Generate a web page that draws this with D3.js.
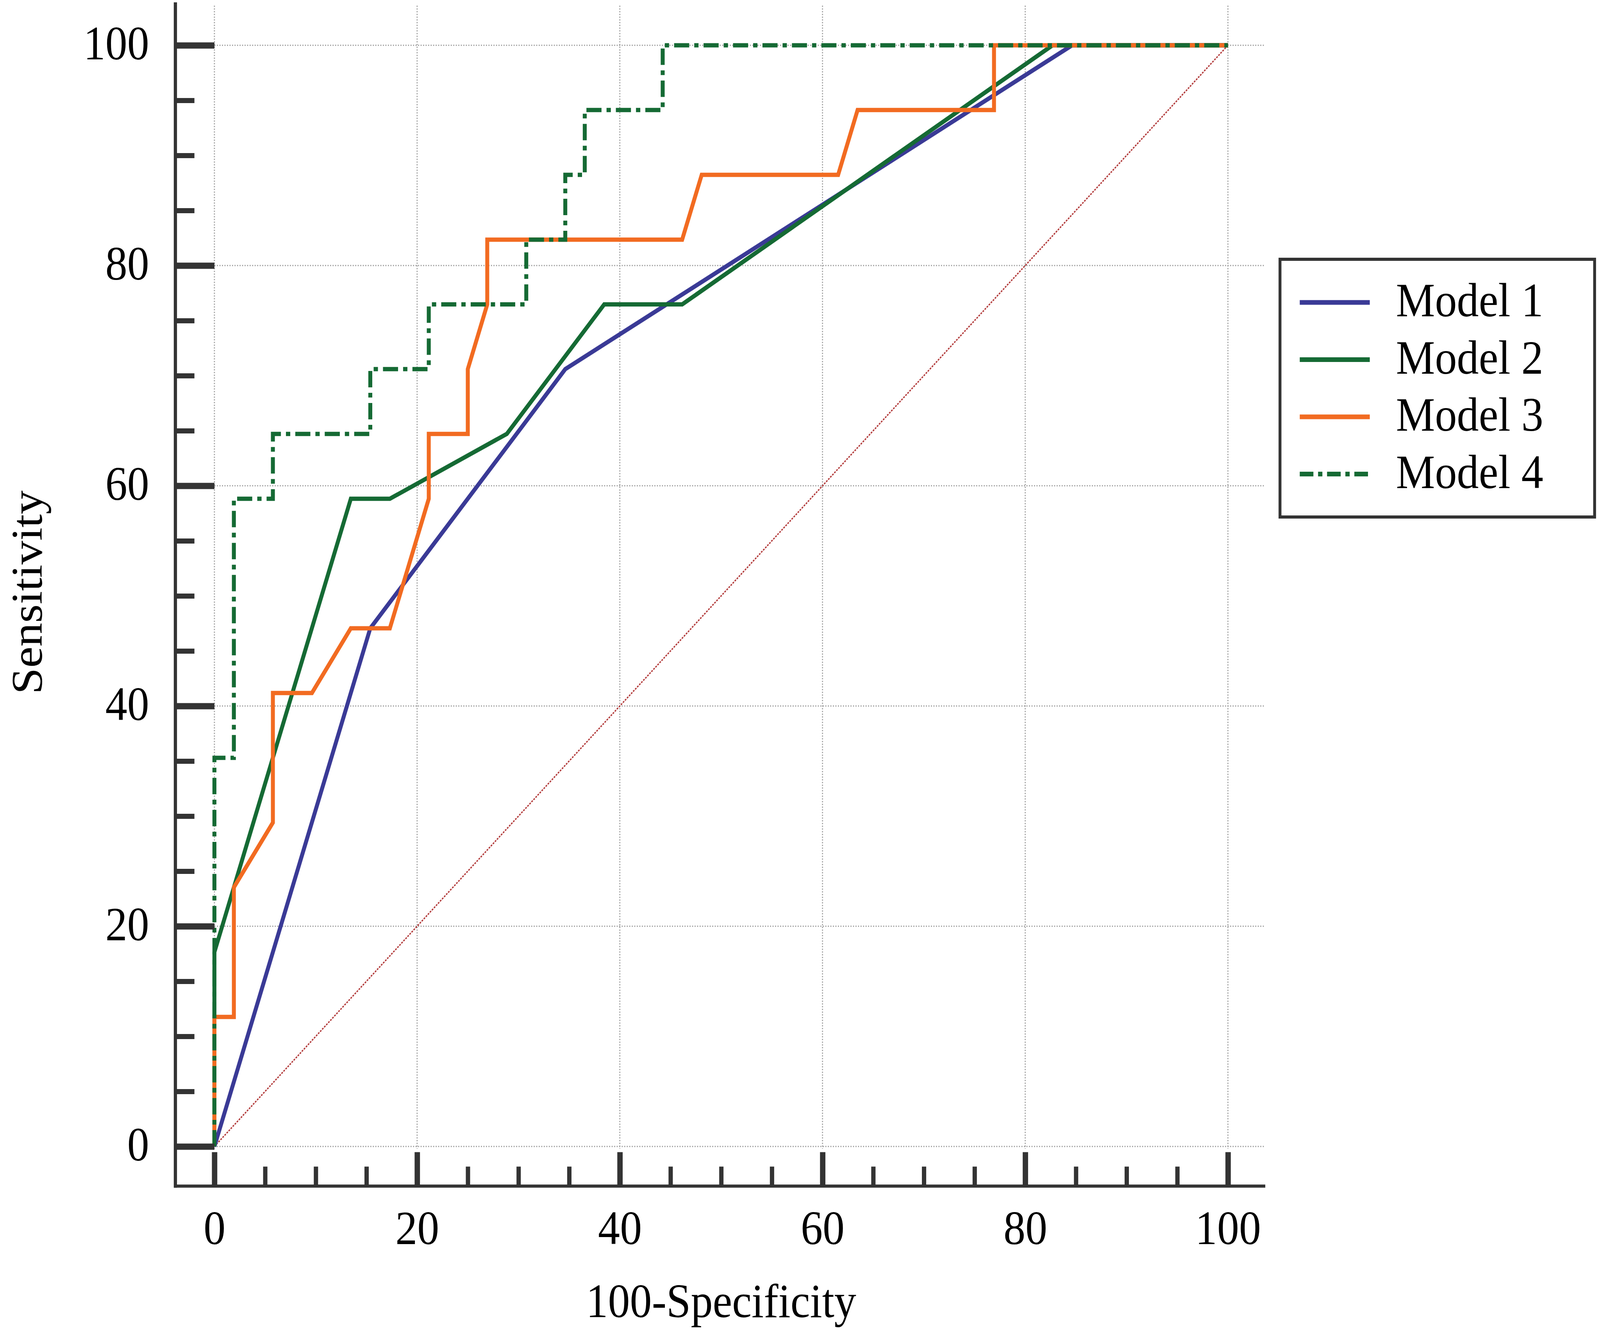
<!DOCTYPE html>
<html>
<head>
<meta charset="utf-8">
<script src="https://cdn.jsdelivr.net/npm/d3@7"></script>
<style>
  html, body { margin: 0; padding: 0; background: #ffffff; width: 100vw; height: 100vh; overflow: hidden; }
  svg { display: block; width: 100vw; height: 100vh; }
</style>
</head>
<body>
<svg id="chart" viewBox="0 0 4455 3406" preserveAspectRatio="none"></svg>
<script>
// ---------------- DATA ----------------
const categories = ["Model 1", "Model 2", "Model 3", "Model 4"];

const model1X = [0, 15.38, 34.62, 84.62, 100];
const model1Y = [0, 47.06, 70.59, 100, 100];

const model2X = [0, 0, 1.92, 13.46, 17.31, 28.85, 38.46, 46.15, 82.69, 100];
const model2Y = [0, 17.65, 23.53, 58.82, 58.82, 64.71, 76.47, 76.47, 100, 100];

const model3X = [0, 0, 1.92, 1.92, 5.77, 5.77, 9.62, 13.46, 17.31, 21.15, 21.15, 25.0, 25.0, 26.92, 26.92, 46.15, 48.08, 61.54, 63.46, 76.92, 76.92, 100];
const model3Y = [0, 11.76, 11.76, 23.53, 29.41, 41.18, 41.18, 47.06, 47.06, 58.82, 64.71, 64.71, 70.59, 76.47, 82.35, 82.35, 88.24, 88.24, 94.12, 94.12, 100, 100];

const model4X = [0, 0, 1.92, 1.92, 5.77, 5.77, 15.38, 15.38, 21.15, 21.15, 30.77, 30.77, 34.62, 34.62, 36.54, 36.54, 44.23, 44.23, 100];
const model4Y = [0, 35.29, 35.29, 58.82, 58.82, 64.71, 64.71, 70.59, 70.59, 76.47, 76.47, 82.35, 82.35, 88.24, 88.24, 94.12, 94.12, 100, 100];

const diagonalX = [0, 100];
const diagonalY = [0, 100];

const xTicks = [0, 20, 40, 60, 80, 100];
const yTicks = [0, 20, 40, 60, 80, 100];
const minorTicks = [5, 10, 15, 25, 30, 35, 45, 50, 55, 65, 70, 75, 85, 90, 95];

const xTitle = "100-Specificity";
const yTitle = "Sensitivity";

// ---------------- STYLE ----------------
const seriesColors = ["#3a3a96", "#156a34", "#f26b21", "#156a34"];
const seriesDash = [null, null, null, "42,14,12,14"];
const FONT = "'Liberation Serif', 'Times New Roman', serif";
const FS = 122;
const AXIS = "#333333";

// ---------------- SCALES ----------------
const svg = d3.select("#chart");
const x = d3.scaleLinear().domain([0, 100]).range([597, 3419]);
const y = d3.scaleLinear().domain([0, 100]).range([2936, 116]);

const gridMax = 103.6;
const yAxisX = x(-3.85);   // vertical axis line position
const xAxisY = y(-3.6);    // horizontal axis line position

// ---------------- GRID ----------------
const grid = svg.append("g")
  .attr("stroke", "#9a9a9a").attr("stroke-width", 3).attr("stroke-dasharray", "3,4").attr("fill", "none");
grid.selectAll("line.h").data(yTicks).join("line").attr("class", "h")
  .attr("x1", x(0)).attr("x2", x(gridMax))
  .attr("y1", d => y(d)).attr("y2", d => y(d));
grid.selectAll("line.v").data(xTicks).join("line").attr("class", "v")
  .attr("x1", d => x(d)).attr("x2", d => x(d))
  .attr("y1", y(gridMax)).attr("y2", y(-0.2));

// ---------------- DIAGONAL ----------------
const lineGen = d3.line().x(d => x(d[0])).y(d => y(d[1]));
svg.append("path")
  .datum(d3.zip(diagonalX, diagonalY))
  .attr("d", lineGen)
  .attr("fill", "none").attr("stroke", "#b23a3a").attr("stroke-width", 3.5)
  .attr("stroke-dasharray", "5,3");

// ---------------- SERIES ----------------
const seriesData = [
  d3.zip(model1X, model1Y),
  d3.zip(model2X, model2Y),
  d3.zip(model3X, model3Y),
  d3.zip(model4X, model4Y)
];
seriesData.forEach((pts, i) => {
  svg.append("path")
    .datum(pts)
    .attr("d", lineGen)
    .attr("fill", "none")
    .attr("stroke", seriesColors[i])
    .attr("stroke-width", 11)
    .attr("stroke-linejoin", "miter")
    .attr("stroke-linecap", "butt")
    .attr("stroke-dasharray", seriesDash[i]);
});

// ---------------- AXES ----------------
// Y axis (ticks point into the plot, labels on the left)
const yAxisMajor = d3.axisLeft(y).tickValues(yTicks).tickSizeInner(-(x(0) - yAxisX)).tickSizeOuter(0).tickPadding(73);
const gy = svg.append("g").attr("transform", `translate(${yAxisX},0)`).call(yAxisMajor);
gy.select(".domain").remove();
gy.selectAll(".tick line").attr("stroke", AXIS).attr("stroke-width", 16);
gy.selectAll(".tick text").attr("font-family", FONT).attr("font-size", FS).attr("fill", "#000").attr("dy", "0.29em");

const yAxisMinor = d3.axisLeft(y).tickValues(minorTicks).tickSizeInner(-53).tickSizeOuter(0).tickFormat("");
const gym = svg.append("g").attr("transform", `translate(${yAxisX},0)`).call(yAxisMinor);
gym.select(".domain").remove();
gym.selectAll(".tick line").attr("stroke", AXIS).attr("stroke-width", 13);

// X axis (ticks point upward, labels below)
const xAxisMajor = d3.axisBottom(x).tickValues(xTicks).tickSizeInner(-87).tickSizeOuter(0).tickPadding(62);
const gx = svg.append("g").attr("transform", `translate(0,${xAxisY})`).call(xAxisMajor);
gx.select(".domain").remove();
gx.selectAll(".tick line").attr("stroke", AXIS).attr("stroke-width", 15);
gx.selectAll(".tick text").attr("font-family", FONT).attr("font-size", FS).attr("fill", "#000");

const xAxisMinor = d3.axisBottom(x).tickValues(minorTicks).tickSizeInner(-50).tickSizeOuter(0).tickFormat("");
const gxm = svg.append("g").attr("transform", `translate(0,${xAxisY})`).call(xAxisMinor);
gxm.select(".domain").remove();
gxm.selectAll(".tick line").attr("stroke", AXIS).attr("stroke-width", 12);

// axis lines
svg.append("line")
  .attr("x1", yAxisX).attr("x2", yAxisX)
  .attr("y1", 6).attr("y2", xAxisY + 4)
  .attr("stroke", AXIS).attr("stroke-width", 9);
svg.append("line")
  .attr("x1", yAxisX - 4).attr("x2", 3523)
  .attr("y1", xAxisY).attr("y2", xAxisY)
  .attr("stroke", AXIS).attr("stroke-width", 8);

// ---------------- TITLES ----------------
svg.append("text")
  .attr("x", (x(0) + x(100)) / 2).attr("y", 3373)
  .attr("text-anchor", "middle")
  .attr("font-family", FONT).attr("font-size", FS).attr("fill", "#000")
  .text(xTitle);
svg.append("text")
  .attr("transform", `translate(116, ${(y(0) + y(100)) / 2 - 9}) rotate(-90)`)
  .attr("text-anchor", "middle")
  .attr("font-family", FONT).attr("font-size", FS).attr("fill", "#000")
  .text(yTitle);

// ---------------- LEGEND ----------------
const legend = svg.append("g");
legend.append("rect")
  .attr("x", 3564).attr("y", 664).attr("width", 876).attr("height", 660)
  .attr("fill", "#fff").attr("stroke", AXIS).attr("stroke-width", 8);
categories.forEach((name, i) => {
  const ly = 774.5 + i * 146.5;
  legend.append("line")
    .attr("x1", 3619).attr("x2", 3814).attr("y1", ly).attr("y2", ly)
    .attr("stroke", seriesColors[i]).attr("stroke-width", 12)
    .attr("stroke-dasharray", i === 3 ? "38,13,12,13" : null);
  legend.append("text")
    .attr("x", 3887).attr("y", ly + 36)
    .attr("font-family", FONT).attr("font-size", FS).attr("fill", "#000")
    .text(name);
});
</script>
</body>
</html>
